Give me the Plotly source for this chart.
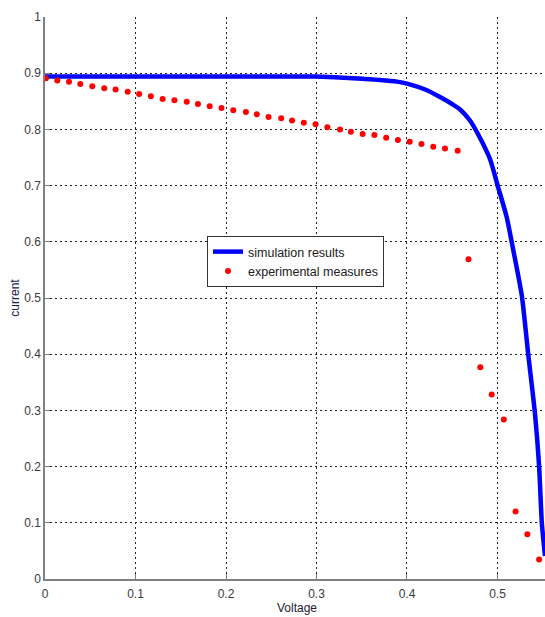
import plotly.graph_objects as go

# Simulation results (blue curve)
sim_voltage = [0.0, 0.05, 0.10, 0.15, 0.20, 0.25, 0.30, 0.33, 0.351, 0.370, 0.389,
               0.401, 0.420, 0.436, 0.450, 0.459, 0.470, 0.479, 0.492, 0.500,
               0.510, 0.517, 0.527, 0.534, 0.541, 0.546, 0.549, 0.5525]
sim_current = [0.894, 0.894, 0.894, 0.894, 0.894, 0.894, 0.894, 0.892, 0.890, 0.888, 0.885,
               0.881, 0.871, 0.858, 0.845, 0.835, 0.815, 0.790, 0.746, 0.701,
               0.645, 0.589, 0.503, 0.399, 0.301, 0.200, 0.100, 0.041]

# Experimental measures (red dots)
exp_voltage = [0.001, 0.0136, 0.0265, 0.039, 0.0523, 0.0655, 0.078, 0.0914, 0.104, 0.117,
               0.130, 0.143, 0.1566, 0.169, 0.182, 0.195, 0.208, 0.222, 0.234, 0.247,
               0.261, 0.273, 0.286, 0.299, 0.312, 0.326, 0.338, 0.351, 0.364, 0.377,
               0.390, 0.403, 0.416, 0.429, 0.442, 0.456,
               0.468, 0.481, 0.4936, 0.507, 0.520, 0.533, 0.546]
exp_current = [0.891, 0.887, 0.885, 0.881, 0.877, 0.873, 0.871, 0.867, 0.863, 0.859,
               0.854, 0.852, 0.849, 0.845, 0.841, 0.838, 0.834, 0.831, 0.827, 0.822,
               0.820, 0.816, 0.812, 0.809, 0.804, 0.800, 0.796, 0.792, 0.790, 0.785,
               0.781, 0.778, 0.774, 0.769, 0.766, 0.762,
               0.569, 0.377, 0.3285, 0.2836, 0.120, 0.0796, 0.0347]

x_ticks = [0, 0.1, 0.2, 0.3, 0.4, 0.5]
x_tick_labels = ["0", "0.1", "0.2", "0.3", "0.4", "0.5"]
y_ticks = [0, 0.1, 0.2, 0.3, 0.4, 0.5, 0.6, 0.7, 0.8, 0.9, 1.0]
y_tick_labels = ["0", "0.1", "0.2", "0.3", "0.4", "0.5", "0.6", "0.7", "0.8", "0.9", "1"]

FONT = "Liberation Sans, Arial, sans-serif"

fig = go.Figure()
fig.add_trace(go.Scatter(
    x=sim_voltage, y=sim_current, mode="lines", name="simulation results",
    line=dict(color="#0000ff", width=4.5, shape="spline", smoothing=0.6),
))
fig.add_trace(go.Scatter(
    x=exp_voltage, y=exp_current, mode="markers", name="experimental measures",
    marker=dict(color="#ff0000", size=6, symbol="circle", line=dict(width=0)),
))

axis_common = dict(
    showgrid=True, gridcolor="#222222", gridwidth=1, griddash="2px,3px",
    showline=True, linecolor="#808080", linewidth=1.5,
    ticks="inside", ticklen=5, tickcolor="#808080",
    zeroline=False, mirror=False, automargin=False,
    tickfont=dict(family=FONT, size=12, color="#3a3a3a"),
)

fig.update_layout(
    width=545, height=617,
    margin=dict(l=45, r=0, t=17, b=38),
    paper_bgcolor="white", plot_bgcolor="white",
    showlegend=True,
    legend=dict(
        x=(207 - 45) / 500, y=(579 - 236) / 562, xanchor="left", yanchor="top",
        bgcolor="white", bordercolor="#333333", borderwidth=1,
        font=dict(family=FONT, size=12.5, color="#202020"),
        itemwidth=30,
    ),
    xaxis=dict(
        range=[0, 0.5525], tickvals=x_ticks, ticktext=x_tick_labels,
        ticklabelstandoff=3,
        **axis_common,
    ),
    yaxis=dict(
        range=[0, 1], tickvals=y_ticks, ticktext=y_tick_labels,
        title=dict(text="current", font=dict(family=FONT, size=12, color="#1a2050"), standoff=2),
        **axis_common,
    ),
    annotations=[dict(
        text="Voltage", xref="paper", yref="paper", x=0.504, y=-29 / 562,
        xanchor="center", yanchor="middle", showarrow=False,
        font=dict(family=FONT, size=12, color="#202030"),
    )],
)

fig.write_html("out.html")
